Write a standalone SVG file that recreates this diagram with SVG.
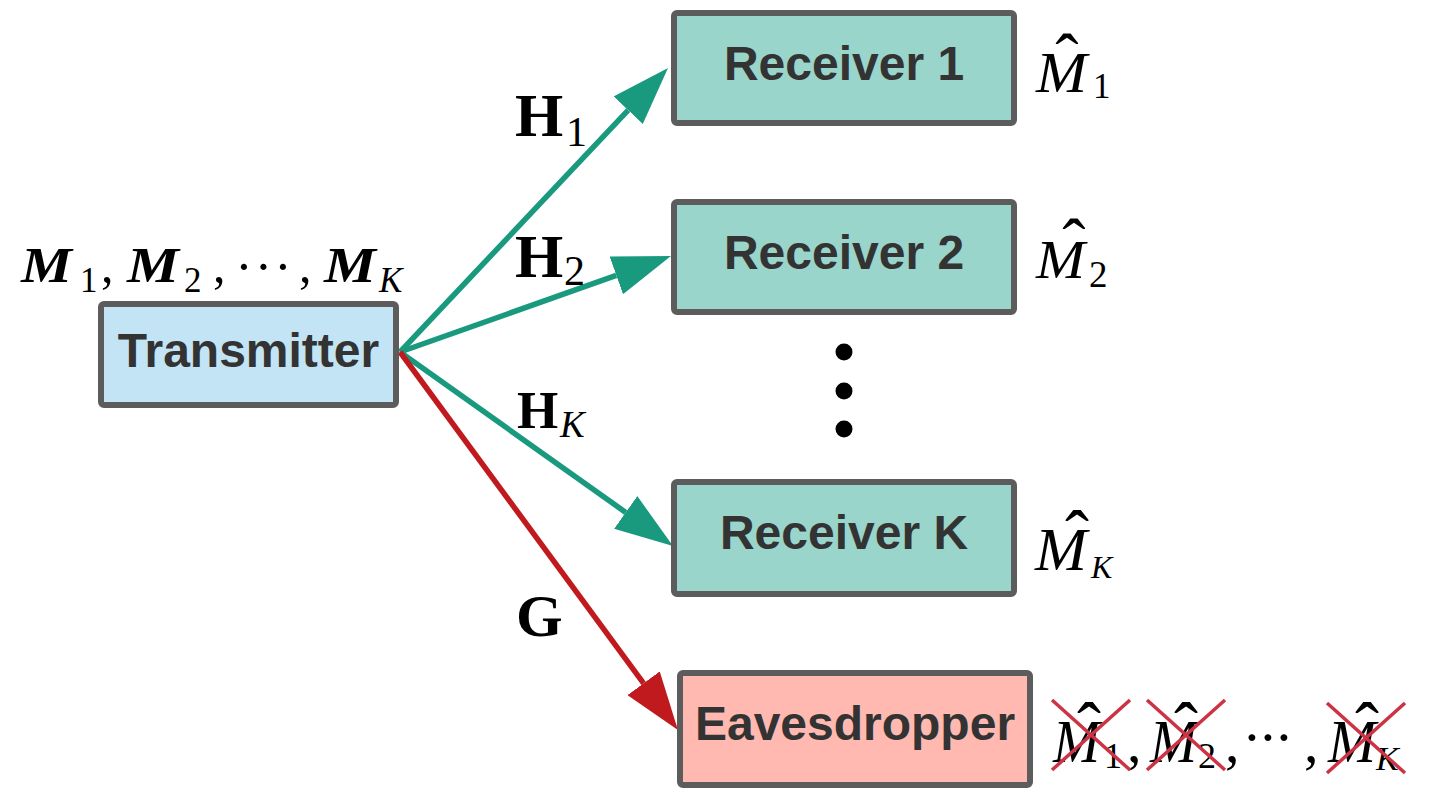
<svg xmlns="http://www.w3.org/2000/svg" width="1435" height="809" viewBox="0 0 1435 809">
<style>
.box{stroke:#5c5c5c;stroke-width:6}
.rx{fill:#99d5cb}
.lbl{font-family:"Liberation Sans",Arial,sans-serif;font-weight:bold;font-size:48px;fill:#333333;text-anchor:middle}
.m{font-family:"Liberation Serif","Times New Roman",serif;fill:#000}
.mi{font-style:italic}
.bd{font-weight:bold}
.c{text-anchor:middle}
.teal{stroke:#199a7f;stroke-width:5.5;fill:none}
.red{stroke:#c01a1e;stroke-width:5.5;fill:none}
.x{stroke:#cc3344;stroke-width:3.5}
</style>
<defs>
<marker id="ah-t" markerUnits="userSpaceOnUse" viewBox="0 -20 58 40" refX="0" refY="0" markerWidth="58" markerHeight="40" orient="auto"><path d="M0,-20 L58,0 L0,20 Z" fill="#199a7f"/></marker>
<marker id="ah-r" markerUnits="userSpaceOnUse" viewBox="0 -20 58 40" refX="0" refY="0" markerWidth="58" markerHeight="40" orient="auto"><path d="M0,-20 L58,0 L0,20 Z" fill="#c01a1e"/></marker>
</defs>
<rect width="1435" height="809" fill="#fff"/>

<g id="connectors">
<line class="teal" x1="400" y1="352" x2="628.2" y2="110.2" marker-end="url(#ah-t)"/>
<line class="teal" x1="400" y1="352" x2="616.3" y2="275.4" marker-end="url(#ah-t)"/>
<line class="teal" x1="400" y1="352" x2="625.7" y2="512.4" marker-end="url(#ah-t)"/>
<line class="red" x1="400" y1="352" x2="643.6" y2="683.3" marker-end="url(#ah-r)"/>
<g id="edge-labels" class="m bd">
<text x="515" y="136" font-size="62">H</text><text x="566" y="146" font-size="42" font-weight="normal">1</text>
<text x="515" y="277" font-size="62">H</text><text x="564" y="285" font-size="42" font-weight="normal">2</text>
<text x="517" y="428" font-size="53">H</text><text x="560" y="437" font-size="37" font-weight="normal" font-style="italic">K</text>
<text x="516" y="636" font-size="60">G</text>
</g>
</g>

<g id="transmitter">
<rect class="box" x="101" y="304" width="295" height="101" rx="3" fill="#c2e4f5"/>
<text class="lbl" x="248.5" y="367">Transmitter</text>
<g class="m">
<text class="mi bd" x="21" y="282" font-size="50" textLength="51" lengthAdjust="spacingAndGlyphs">M</text><text x="80" y="292" font-size="35">1</text>
<text x="101" y="282" font-size="50">,</text>
<text class="mi bd" x="127" y="282" font-size="50" textLength="52" lengthAdjust="spacingAndGlyphs">M</text><text x="184" y="292" font-size="35">2</text>
<text x="213" y="282" font-size="50">,</text>
<text class="c" x="244" y="284" font-size="52">·</text>
<text class="c" x="263.5" y="284" font-size="52">·</text>
<text class="c" x="283" y="284" font-size="52">·</text>
<text x="299" y="282" font-size="50">,</text>
<text class="mi bd" x="324" y="282" font-size="50" textLength="52" lengthAdjust="spacingAndGlyphs">M</text><text class="mi" x="379" y="292" font-size="35">K</text>
</g>
</g>

<g id="receiver1">
<rect class="box rx" x="674" y="13" width="340" height="110" rx="3"/>
<text class="lbl" x="844" y="80">Receiver 1</text>
<g class="m">
<text class="mi" x="1036" y="92" font-size="56" textLength="51" lengthAdjust="spacingAndGlyphs">M</text>
<text class="c" x="1067" y="82" font-size="70">ˆ</text>
<text x="1093" y="98" font-size="35">1</text>
</g>
</g>

<g id="receiver2">
<rect class="box rx" x="674" y="202" width="340" height="110" rx="3"/>
<text class="lbl" x="844" y="269">Receiver 2</text>
<g class="m">
<text class="mi" x="1036" y="278" font-size="54" textLength="49" lengthAdjust="spacingAndGlyphs">M</text>
<text class="c" x="1074" y="267" font-size="70">ˆ</text>
<text x="1089" y="287" font-size="37">2</text>
</g>
</g>

<g id="dots" fill="#000">
<circle cx="844" cy="352" r="8.5"/>
<circle cx="844" cy="391" r="8.5"/>
<circle cx="844" cy="429" r="8.5"/>
</g>

<g id="receiverK">
<rect class="box rx" x="674" y="482" width="340" height="112" rx="3"/>
<text class="lbl" x="844" y="549">Receiver K</text>
<g class="m">
<text class="mi" x="1035" y="570" font-size="62" textLength="52" lengthAdjust="spacingAndGlyphs">M</text>
<text class="c" x="1077" y="560" font-size="72">ˆ</text>
<text class="mi" x="1091" y="578" font-size="32">K</text>
</g>
</g>

<g id="eavesdropper">
<rect class="box" x="680" y="673" width="350" height="112" rx="3" fill="#ffb9b1"/>
<text class="lbl" x="855" y="740">Eavesdropper</text>
<g class="m">
<text class="mi" x="1053" y="762" font-size="62" textLength="47" lengthAdjust="spacingAndGlyphs">M</text>
<text class="c" x="1089" y="752" font-size="72">ˆ</text>
<text x="1104" y="768" font-size="36">1</text>
<text x="1127" y="762" font-size="58">,</text>
<text class="mi" x="1150" y="762" font-size="62" textLength="47" lengthAdjust="spacingAndGlyphs">M</text>
<text class="c" x="1186" y="752" font-size="72">ˆ</text>
<text x="1198" y="768" font-size="36">2</text>
<text x="1225" y="762" font-size="58">,</text>
<text class="c" x="1252" y="757" font-size="58">·</text>
<text class="c" x="1268" y="757" font-size="58">·</text>
<text class="c" x="1284" y="757" font-size="58">·</text>
<text x="1304" y="762" font-size="58">,</text>
<text class="mi" x="1328" y="762" font-size="62" textLength="48" lengthAdjust="spacingAndGlyphs">M</text>
<text class="c" x="1367" y="752" font-size="72">ˆ</text>
<text class="mi" x="1376" y="770" font-size="34">K</text>
</g>
<g id="crosses" class="x">
<line x1="1052" y1="700" x2="1130" y2="770"/><line x1="1130" y1="700" x2="1052" y2="770"/>
<line x1="1147" y1="700" x2="1225" y2="770"/><line x1="1225" y1="700" x2="1147" y2="770"/>
<line x1="1327" y1="703" x2="1405" y2="773"/><line x1="1405" y1="703" x2="1327" y2="773"/>
</g>
</g>
</svg>
